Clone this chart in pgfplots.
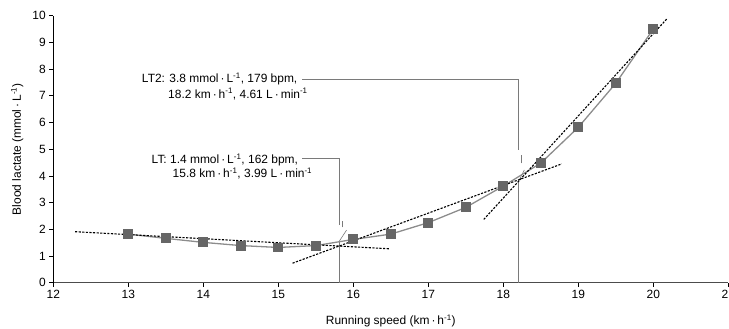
\documentclass[border=0pt]{standalone}
\usepackage{pgfplots}
\pgfplotsset{compat=1.18}
\usepackage{fontspec}
\setmainfont{Liberation Sans}
\definecolor{dgray}{HTML}{666666}
\definecolor{lgray}{HTML}{8C8C8C}
\definecolor{vgray}{HTML}{7A7A7A}
\newcommand{\cd}{\,·\,}
\newcommand{\fs}{\fontsize{12}{14}\selectfont}
\begin{document}
\begin{tikzpicture}
\begin{axis}[name=ax, scale only axis, width=675bp, height=267bp,
 xmin=12,xmax=21,ymin=0,ymax=10,
 axis lines=left, axis line style={-},
 x axis line style={line width=1.6pt, black!70},
 y axis line style={line width=0.9pt, black},
 xtick={12,...,21}, ytick={0,...,10},
 tick align=outside, major tick length=4bp,
 tick style={black, line width=0.8pt},
 /pgf/number format/assume math mode=true,
 ticklabel style={font=\fs},
 label style={font=\fs},
 xlabel={Running speed (km\cd h\textsuperscript{-1})},
 ylabel={Blood lactate (mmol\cd L\textsuperscript{-1})},
 xlabel style={at={(axis description cs:0.5,-0.1434)},anchor=center},
 ylabel style={at={(axis description cs:-0.0533,0.5)},anchor=center},
 clip=false]
% annotation lines
\draw[vgray, line width=0.8pt] (axis cs:15.81,0) -- (axis cs:15.81,1.54);
\draw[vgray, line width=0.8pt] (axis cs:15.81,2.16) -- (axis cs:15.81,4.66) -- (axis cs:15.31,4.66);
\draw[vgray, line width=0.7pt] (axis cs:15.86,2.07) -- (axis cs:15.86,2.32);
\draw[vgray, line width=0.6pt] (axis cs:15.81,1.54) -- (axis cs:15.91,1.97);
\draw[vgray, line width=0.8pt] (axis cs:18.2,0) -- (axis cs:18.2,3.78);
\draw[vgray, line width=0.8pt] (axis cs:18.2,4.97) -- (axis cs:18.2,7.61) -- (axis cs:15.31,7.61);
\draw[vgray, line width=0.7pt] (axis cs:18.245,4.47) -- (axis cs:18.245,4.78);
\draw[vgray, line width=0.6pt] (axis cs:18.2,3.78) -- (axis cs:18.28,4.22);
% data
\addplot[lgray, line width=1.3pt, mark=square*, mark size=4.3bp, mark options={fill=dgray, draw=dgray}]
 coordinates {(13,1.82)(13.5,1.66)(14,1.51)(14.5,1.39)(15,1.32)(15.5,1.39)(16,1.62)(16.5,1.82)(17,2.25)(17.5,2.82)(18,3.62)(18.5,4.48)(19,5.82)(19.5,7.47)(20,9.5)};
% regression lines
\addplot[black, line width=1.1pt, dash pattern=on 2.2pt off 1.4pt] coordinates {(12.29,1.91)(16.48,1.27)};
\addplot[black, line width=1.1pt, dash pattern=on 2.2pt off 1.4pt] coordinates {(15.19,0.73)(18.78,4.45)};
\addplot[black, line width=1.1pt, dash pattern=on 2.2pt off 1.4pt] coordinates {(17.74,2.37)(20.18,9.88)};
% labels
\node[anchor=base west, inner sep=0, font=\fs] at (axis cs:13.18,7.48) {LT2: 3.8 mmol\cd L\textsuperscript{-1}, 179 bpm,};
\node[anchor=base west, inner sep=0, font=\fs] at (axis cs:13.53,6.91) {18.2 km\cd h\textsuperscript{-1}, 4.61 L\cd min\textsuperscript{-1}};
\node[anchor=base west, inner sep=0, font=\fs] at (axis cs:13.31,4.47) {LT: 1.4 mmol\cd L\textsuperscript{-1}, 162 bpm,};
\node[anchor=base west, inner sep=0, font=\fs] at (axis cs:13.59,3.93) {15.8 km\cd h\textsuperscript{-1}, 3.99 L\cd min\textsuperscript{-1}};
\end{axis}
\pgfresetboundingbox
\path[use as bounding box] ([shift={(-53.3bp,-46.3bp)}]ax.south west) rectangle ([shift={(0.7bp,15.7bp)}]ax.north east);
\end{tikzpicture}
\end{document}
